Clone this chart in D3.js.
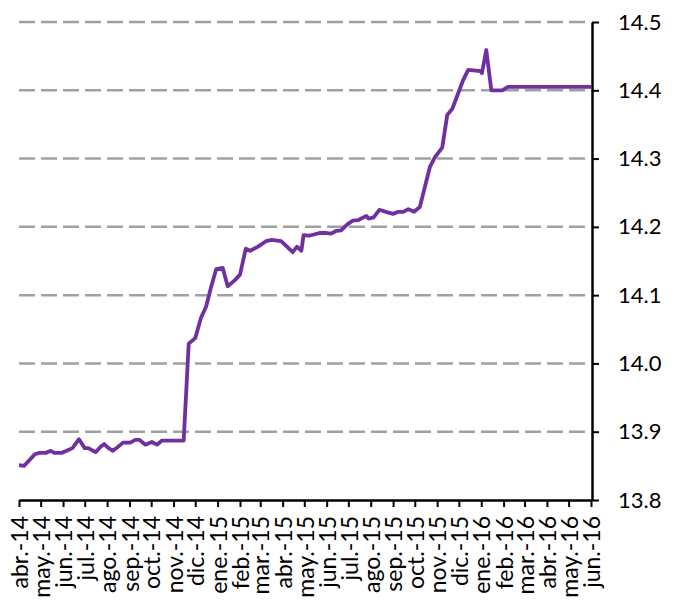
<!DOCTYPE html>
<html>
<head>
<meta charset="utf-8">
<script src="https://cdn.jsdelivr.net/npm/d3@7"></script>
<style>
  html, body { margin: 0; padding: 0; background: #fff; }
  svg { display: block; }
</style>
</head>
<body>
<svg id="chart" width="680" height="604"></svg>
<script>
// Observation dates and rates
const dates = [
  "2014-04-01","2014-04-08","2014-04-23","2014-04-29","2014-05-08","2014-05-15","2014-05-20","2014-05-30",
  "2014-06-06","2014-06-14","2014-06-23","2014-07-01","2014-07-06","2014-07-16","2014-07-23","2014-07-28",
  "2014-08-03","2014-08-09","2014-08-14","2014-08-23","2014-09-02","2014-09-09","2014-09-15","2014-09-23",
  "2014-10-02","2014-10-09","2014-10-16","2014-11-15","2014-11-22","2014-12-01","2014-12-09","2014-12-16",
  "2014-12-23","2014-12-30","2015-01-08","2015-01-15","2015-01-25","2015-02-01","2015-02-09","2015-02-15",
  "2015-02-26","2015-03-09","2015-03-17","2015-03-30","2015-04-15","2015-04-21","2015-04-27","2015-04-30",
  "2015-05-08","2015-05-22","2015-06-01","2015-06-07","2015-06-14","2015-06-21","2015-06-30","2015-07-07",
  "2015-07-15","2015-07-26","2015-07-29","2015-08-05","2015-08-13","2015-08-22","2015-09-01","2015-09-08",
  "2015-09-15","2015-09-22","2015-09-30","2015-10-08","2015-10-22","2015-10-29","2015-11-08","2015-11-15",
  "2015-11-22","2015-12-07","2015-12-14","2015-12-31","2016-01-02","2016-01-08","2016-01-15","2016-01-30",
  "2016-02-07","2016-06-01"
];
const values = [
  13.851,13.850,13.867,13.869,13.869,13.872,13.869,13.869,
  13.872,13.876,13.889,13.876,13.876,13.870,13.878,13.882,
  13.876,13.872,13.876,13.884,13.884,13.888,13.888,13.881,
  13.885,13.881,13.887,13.887,14.029,14.037,14.067,14.083,
  14.112,14.138,14.140,14.113,14.122,14.130,14.168,14.165,
  14.171,14.179,14.181,14.179,14.163,14.171,14.165,14.188,
  14.187,14.191,14.191,14.190,14.194,14.195,14.204,14.209,
  14.210,14.216,14.212,14.214,14.225,14.222,14.219,14.222,
  14.222,14.226,14.222,14.229,14.288,14.302,14.316,14.364,
  14.373,14.415,14.430,14.428,14.425,14.459,14.400,14.400,
  14.405,14.405
];

// Axis tick labels
const monthLabels = [
  "abr.-14","may.-14","jun.-14","jul.-14","ago.-14","sep.-14","oct.-14","nov.-14","dic.-14",
  "ene.-15","feb.-15","mar.-15","abr.-15","may.-15","jun.-15","jul.-15","ago.-15","sep.-15",
  "oct.-15","nov.-15","dic.-15","ene.-16","feb.-16","mar.-16","abr.-16","may.-16","jun.-16"
];
const yTicks = [13.8, 13.9, 14.0, 14.1, 14.2, 14.3, 14.4, 14.5];

const FONT = "Lato, 'Open Sans', sans-serif";
const parse = d3.timeParse("%Y-%m-%d");
const series = dates.map((d, i) => ({ date: parse(d), value: values[i] }));

const svg = d3.select("#chart");
const plotLeft = 19, plotRight = 591, plotTop = 22, plotBottom = 500;

const start = parse("2014-04-01"), end = parse("2016-06-01");
const x = d3.scaleTime().domain([start, end]).range([plotLeft, plotRight]);
const y = d3.scaleLinear().domain([13.8, 14.5]).range([plotBottom, plotTop]);

// Dashed horizontal gridlines
svg.append("g")
  .selectAll("line")
  .data(yTicks.filter(v => v > 13.8))
  .join("line")
  .attr("x1", plotLeft).attr("x2", plotRight)
  .attr("y1", d => y(d)).attr("y2", d => y(d))
  .attr("stroke", "#a0a0a0")
  .attr("stroke-width", 2.5)
  .attr("stroke-dasharray", "16,6");

// Series line
const line = d3.line().x(d => x(d.date)).y(d => y(d.value));
svg.append("path")
  .datum(series)
  .attr("d", line)
  .attr("fill", "none")
  .attr("stroke", "#7030a0")
  .attr("stroke-width", 3.8)
  .attr("stroke-linejoin", "round");

// Bottom axis: one tick per month, rotated labels
const monthTicks = d3.timeMonth.range(start, d3.timeDay.offset(end, 1));
const xAxis = d3.axisBottom(x)
  .tickValues(monthTicks)
  .tickSize(7)
  .tickSizeOuter(0)
  .tickFormat((d, i) => monthLabels[i]);

const gx = svg.append("g")
  .attr("transform", `translate(0,${plotBottom})`)
  .call(xAxis)
  .attr("font-family", FONT)
  .attr("font-size", 23);
gx.select(".domain").attr("stroke", "#000").attr("stroke-width", 2.5);
gx.selectAll(".tick line").attr("stroke", "#000").attr("stroke-width", 2);
gx.selectAll(".tick text")
  .attr("fill", "#000")
  .attr("text-anchor", "end")
  .attr("transform", "rotate(-90)")
  .attr("x", -16)
  .attr("y", 0)
  .attr("dy", "0.38em");

// Right axis
const yAxis = d3.axisRight(y)
  .tickValues(yTicks)
  .tickSize(7)
  .tickSizeOuter(0)
  .tickPadding(19)
  .tickFormat(d3.format(".1f"));

const gy = svg.append("g")
  .attr("transform", `translate(${plotRight + 1},0)`)
  .call(yAxis)
  .attr("font-family", FONT)
  .attr("font-size", 22);
gy.select(".domain").attr("stroke", "#000").attr("stroke-width", 2.5);
gy.selectAll(".tick line").attr("stroke", "#000").attr("stroke-width", 2);
gy.selectAll(".tick text").attr("fill", "#000");
</script>
</body>
</html>
